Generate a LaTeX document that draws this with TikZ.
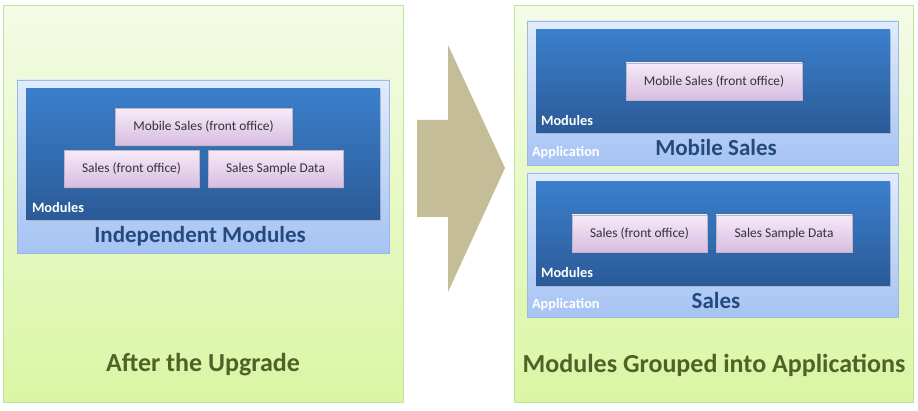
\documentclass[tikz,border=0pt]{standalone}
\usepackage{fontspec}
\setmainfont{Carlito}
\usetikzlibrary{shadows}
\definecolor{panelTop}{HTML}{F4FBE6}
\definecolor{panelBot}{HTML}{DAF6A4}
\definecolor{panelLine}{HTML}{BFE39A}
\definecolor{appTop}{HTML}{E1ECFC}
\definecolor{appBot}{HTML}{A6C3F4}
\definecolor{appLine}{HTML}{9DB8E0}
\definecolor{modTop}{HTML}{3B7FCC}
\definecolor{modBot}{HTML}{2B5A97}
\definecolor{itemTop}{HTML}{F6EAF8}
\definecolor{itemBot}{HTML}{D7BDE0}
\definecolor{itemText}{HTML}{333333}
\definecolor{titleBlue}{HTML}{244A7C}
\definecolor{titleGreen}{HTML}{4F6228}
\definecolor{arrowFill}{HTML}{C4BD97}

\begin{document}
\begin{tikzpicture}[x=1pt,y=-1pt,
  every node/.style={inner sep=0pt, outer sep=0pt},
  panel/.style={draw=panelLine, line width=1pt, top color=panelTop, bottom color=panelBot},
  appbox/.style={draw=appLine, line width=0.8pt, top color=appTop, bottom color=appBot,
    drop shadow={opacity=0.25, shadow xshift=1pt, shadow yshift=-1.5pt}},
  modbox/.style={top color=modTop, bottom color=modBot,
    drop shadow={opacity=0.3, shadow xshift=1pt, shadow yshift=-1.5pt}},
  item/.style={draw=itemBot!70!black!60, line width=0.4pt, top color=itemTop, bottom color=itemBot,
    text=itemText, font=\fontsize{13.4}{15}\selectfont, minimum height=37pt,
    drop shadow={opacity=0.3, shadow xshift=1pt, shadow yshift=-1.5pt}},
  tag/.style={text=white, font=\bfseries\fontsize{14.3}{16}\selectfont, anchor=west},
  boxtitle/.style={text=titleBlue, font=\bfseries\fontsize{23}{26}\selectfont},
  paneltitle/.style={text=titleGreen, font=\bfseries\fontsize{26}{29}\selectfont}]
\useasboundingbox (0,0) rectangle (918,411);

% left side
\node[panel, minimum width=400pt, minimum height=396pt] (before) at (203,204) {};
\node[appbox, minimum width=372pt, minimum height=173pt] (indep) at (203,166.5) {};
\node[modbox, minimum width=354pt, minimum height=131pt] (mods) at (203,154.5) {};
\node[item, minimum width=177pt] (mobA) at (203.5,127) {Mobile Sales (front office)};
\node[item, minimum width=135pt] (salesA) at (131.5,169) {Sales (front office)};
\node[item, minimum width=135pt] (sampleA) at (275.5,169) {Sales Sample Data};
\node[tag] (modsTag) at (32,208) {Modules};
\node[boxtitle] (indepTitle) at (200,236) {Independent Modules};
\node[paneltitle] (beforeTitle) at (203,365) {After the Upgrade};

% arrow
\fill[arrowFill] (417,120) -- (448,120) -- (448,45) -- (505,168)
  -- (448,292) -- (448,217) -- (417,217) -- cycle;

% right side
\node[panel, minimum width=399pt, minimum height=396pt] (after) at (713.5,204) {};
\node[appbox, minimum width=371pt, minimum height=144pt] (appMob) at (712.5,93) {};
\node[modbox, minimum width=354pt, minimum height=103pt] (modsMob) at (713,81.5) {};
\node[item, minimum width=176pt] (mobB) at (714,81.5) {Mobile Sales (front office)};
\node[tag] (modsMobTag) at (541,121) {Modules};
\node[tag] (appMobTag) at (532,153) {Application};
\node[boxtitle] (appMobTitle) at (716,148) {Mobile Sales};

\node[appbox, minimum width=371pt, minimum height=144pt] (appSales) at (712.5,245) {};
\node[modbox, minimum width=354pt, minimum height=104pt] (modsSales) at (713,234) {};
\node[item, minimum width=135pt] (salesB) at (639.5,233.5) {Sales (front office)};
\node[item, minimum width=136pt] (sampleB) at (784,233.5) {Sales Sample Data};
\node[tag] (modsSalesTag) at (541,273) {Modules};
\node[tag] (appSalesTag) at (532,305) {Application};
\node[boxtitle] (appSalesTitle) at (716,301) {Sales};
\node[paneltitle] (afterTitle) at (714,365) {Modules Grouped into Applications};
\end{tikzpicture}
\end{document}
